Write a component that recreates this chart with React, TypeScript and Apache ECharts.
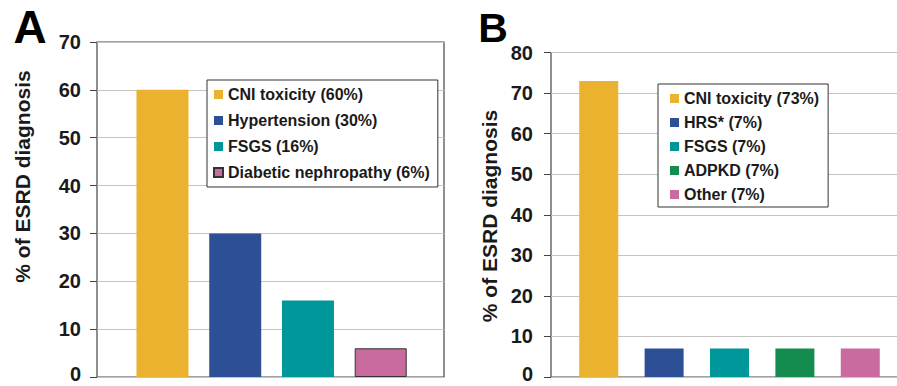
import React, { useEffect, useRef } from "react";
import * as echarts from "echarts";

const namesA = ["CNI toxicity (60%)", "Hypertension (30%)", "FSGS (16%)", "Diabetic nephropathy (6%)"];
const valuesA = [60, 30, 16, 6];
const colorsA = ["#EBB22F", "#2C4F95", "#00979A", "#C96B9E"];

const namesB = ["CNI toxicity (73%)", "HRS* (7%)", "FSGS (7%)", "ADPKD (7%)", "Other (7%)"];
const valuesB = [73, 7, 7, 7, 7];
const colorsB = ["#EBB22F", "#2C4F95", "#00979A", "#148C50", "#C96B9E"];

const yTicksA = { min: 0, max: 70, interval: 10 };
const yTicksB = { min: 0, max: 80, interval: 10 };
const yAxisTitle = "% of ESRD diagnosis";
const panelLabels = ["A", "B"];

const FONT = "'Liberation Sans', Arial, Helvetica, sans-serif";
const TEXT = "#1a1a1a";

export default function App() {
  const ref = useRef<HTMLDivElement>(null);
  useEffect(() => {
    if (!ref.current) return;
    const chart = echarts.init(ref.current, null, { renderer: "svg" });

    const labelStyle = { fontSize: 20, fontWeight: "bold", fontFamily: FONT, color: TEXT };
    const yAxisCommon = (gridIndex: number, t: any, margin: number) => ({
      type: "value",
      gridIndex,
      min: t.min,
      max: t.max,
      interval: t.interval,
      axisLine: { show: false },
      axisTick: { show: true, inside: false, length: 7, lineStyle: { color: "#444", width: 1 } },
      axisLabel: {
        margin,
        ...labelStyle,
        formatter: (v: number) => (v === 0 ? "{z|0}" : "{n|" + v + "}"),
        rich: {
          n: { ...labelStyle },
          z: { ...labelStyle, padding: [0, 0, 6, 0] },
        },
      },
      splitLine: { show: true, lineStyle: { color: "#c4c4c4", width: 1 } },
    });
    const xAxisCommon = (gridIndex: number, min: number, max: number) => ({
      type: "value",
      gridIndex,
      min,
      max,
      axisLine: { show: false },
      axisTick: { show: false },
      axisLabel: { show: false },
      splitLine: { show: false },
    });

    const seriesA = namesA.map((n, i) => ({
      type: "bar",
      name: n,
      xAxisIndex: 0,
      yAxisIndex: 0,
      barWidth: 52,
      barGap: "-100%",
      data: [[i + 1, valuesA[i]]],
      itemStyle:
        i === 3
          ? { color: colorsA[i], borderColor: "#333", borderWidth: 1 }
          : { color: colorsA[i] },
    }));
    const seriesB = namesB.map((n, i) => ({
      type: "bar",
      name: n,
      xAxisIndex: 1,
      yAxisIndex: 1,
      barWidth: 39,
      barGap: "-100%",
      data: [[i + 1, valuesB[i]]],
      itemStyle: { color: colorsB[i] },
    }));

    const legendCommon = {
      orient: "vertical",
      icon: "rect",
      itemWidth: 9,
      itemHeight: 9,
      backgroundColor: "#fff",
      borderColor: "#333",
      borderWidth: 1,
      borderRadius: 0,
      textStyle: { fontSize: 16, fontWeight: "bold", fontFamily: FONT, color: TEXT, lineHeight: 17 },
      selectedMode: false,
    };

    chart.setOption({
      animation: false,
      backgroundColor: "#fff",
      grid: [
        { left: 97, top: 42, width: 347, height: 335, show: true, borderColor: "#444", borderWidth: 1.2, backgroundColor: "transparent", outerBoundsMode: "none", containLabel: false },
        { left: 551, top: 52.5, width: 357, height: 324.5, show: true, borderColor: "#444", borderWidth: 1.2, backgroundColor: "transparent", outerBoundsMode: "none", containLabel: false },
      ],
      xAxis: [xAxisCommon(0, 0.1, 4.87), xAxisCommon(1, 0.27, 5.73)],
      yAxis: [yAxisCommon(0, yTicksA, 16), yAxisCommon(1, yTicksB, 18)],
      legend: [
        { ...legendCommon, data: namesA, left: 207, top: 80, itemGap: 9, padding: [6, 8, 6, 6] },
        { ...legendCommon, data: namesB, left: 658, top: 84, itemGap: 7, padding: [6, 9, 4, 12] },
      ],
      graphic: [
        {
          type: "text",
          x: 22.5,
          y: 176.5,
          rotation: Math.PI / 2,
          style: { text: yAxisTitle, fontSize: 21, fontWeight: "bold", fontFamily: FONT, fill: TEXT, align: "center", verticalAlign: "middle" },
        },
        {
          type: "text",
          x: 489,
          y: 216,
          rotation: Math.PI / 2,
          style: { text: yAxisTitle, fontSize: 21, fontWeight: "bold", fontFamily: FONT, fill: TEXT, align: "center", verticalAlign: "middle" },
        },
        {
          type: "text",
          x: 30,
          y: 27,
          style: { text: panelLabels[0], fontSize: 46, fontWeight: "bold", fontFamily: FONT, fill: "#000", align: "center", verticalAlign: "middle" },
        },
        {
          type: "text",
          x: 493,
          y: 28,
          style: { text: panelLabels[1], fontSize: 41, fontWeight: "bold", fontFamily: FONT, fill: "#000", align: "center", verticalAlign: "middle" },
        },
      ],
      series: [...seriesA, ...seriesB],
    });
    return () => chart.dispose();
  }, []);
  return <div ref={ref} style={{ position: "absolute", left: 0, top: 0, width: 897, height: 386 }} />;
}
